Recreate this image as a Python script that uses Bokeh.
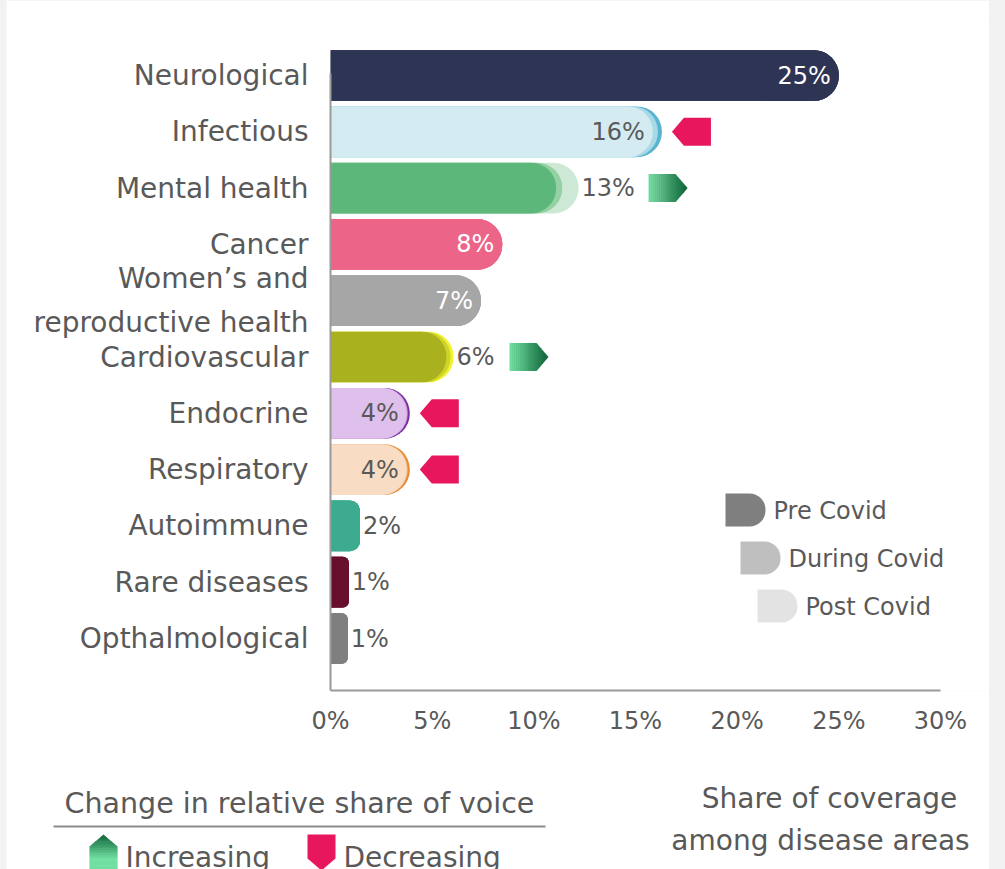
import numpy as np
from bokeh.plotting import figure
from bokeh.models import Range1d, FixedTicker, PrintfTickFormatter, ColumnDataSource
from bokeh.embed import file_html
from bokeh.resources import INLINE
from bokeh.core.properties import value

# ---------------- data ----------------
categories = ["Neurological", "Infectious", "Mental health", "Cancer",
              "Women\u2019s and\nreproductive health", "Cardiovascular", "Endocrine",
              "Respiratory", "Autoimmune", "Rare diseases", "Opthalmological"]
pre_covid = [25.0, 16.3, 11.1, 8.45, 7.4, 5.7, 3.9, 3.9, 1.45, 0.9, 0.85]
during_covid = [25.0, 16.1, 11.4, 8.45, 7.4, 5.9, 3.8, 3.8, 1.45, 0.9, 0.85]
post_covid = [25.0, 15.85, 12.2, 8.45, 7.4, 6.05, 3.75, 3.75, 1.45, 0.9, 0.85]
share_labels = [25, 16, 13, 8, 7, 6, 4, 4, 2, 1, 1]
change_direction = ["", "decreasing", "increasing", "", "", "increasing",
                    "decreasing", "decreasing", "", "", ""]
x_ticks = [0, 5, 10, 15, 20, 25, 30]
period_names = ["Pre Covid", "During Covid", "Post Covid"]
change_names = ["Increasing", "Decreasing"]

# ---------------- style ----------------
FONT = "DejaVu Sans"
TXT = "#595959"
AXC = "#9a9a9a"
PAGE_BG = "#f2f2f2"
col_pre = ["#2e3454", "#5ab4cf", "#5bb77a", "#ec6589", "#a6a6a6", "#a9b11f",
           "#7d2fa0", "#e6892f", "#3dab8f", "#690f2e", "#7f7f7f"]
col_during = ["#2e3454", "#a8d9e6", "#94d0a4", "#ec6589", "#a6a6a6", "#cfd42a",
              "#c39ad8", "#f2b98a", "#3dab8f", "#690f2e", "#7f7f7f"]
col_post = ["#2e3454", "#d3ebf1", "#cde9d5", "#ec6589", "#a6a6a6", "#f1f22a",
            "#dfbfeb", "#f8dcc3", "#3dab8f", "#690f2e", "#7f7f7f"]
label_inside = [True, True, False, True, True, False, True, True, False, False, False]
label_white = [True, False, False, True, True, False, False, False, False, False, False]
legend_cols = ["#7f7f7f", "#bfbfbf", "#e3e3e3"]
RED = "#e8175d"
G_LIGHT = np.array([112, 222, 160])
G_DARK = np.array([14, 98, 56])

# ---------------- geometry ----------------
W, H = 989, 869
FL, FT = 330, 20
FBOT = 690
X_END = 32.41
Y_START, Y_END = -0.9236, 10.977

p = figure(width=W, height=H, x_range=Range1d(0, X_END), y_range=Range1d(Y_START, Y_END),
           output_backend="svg", toolbar_location=None,
           min_border_left=FL, min_border_right=0, min_border_top=FT, min_border_bottom=H - FBOT)
p.outline_line_color = None
p.grid.grid_line_color = None
p.background_fill_color = "white"
p.border_fill_color = "white"

pxx = (W - FL) / X_END
pxy = (FBOT - FT) / (Y_END - Y_START)


def DX(page_x):
    return (page_x - FL) / pxx


def DY(page_y):
    return Y_END - (page_y - FT) / pxy


def hexc(rgb):
    return "#%02x%02x%02x" % tuple(int(c) for c in rgb)


n = len(categories)
ypos = [n - 1 - i for i in range(n)]
BAR_H = 0.9

# bars (largest layer first, smaller drawn on top)
for i in range(n):
    layers = [(pre_covid[i], col_pre[i]), (during_covid[i], col_during[i]), (post_covid[i], col_post[i])]
    layers.sort(key=lambda t: -t[0])
    for v, c in layers:
        r = int(min(25, round(v * pxx * 0.33)))
        src = ColumnDataSource(dict(y=[ypos[i]], right=[v]))
        p.hbar(y="y", left=0, right="right", height=BAR_H, source=src,
               fill_color=c, line_color=None, border_radius=(0, r, r, 0))

# value labels
ins = dict(x=[], y=[], t=[], c=[])
outs = dict(x=[], y=[], t=[])
for i in range(n):
    vals = [pre_covid[i], during_covid[i], post_covid[i]]
    if label_inside[i]:
        ins["x"].append(min(vals)); ins["y"].append(ypos[i]); ins["t"].append(f"{share_labels[i]}%")
        ins["c"].append("white" if label_white[i] else TXT)
    else:
        outs["x"].append(max(vals)); outs["y"].append(ypos[i]); outs["t"].append(f"{share_labels[i]}%")
p.text(x="x", y="y", text="t", source=ColumnDataSource(ins), text_color="c", text_align="right",
       text_baseline="middle", x_offset=-8, text_font=value(FONT), text_font_size="24px")
p.text(x="x", y="y", text="t", source=ColumnDataSource(outs), text_color=TXT, text_align="left",
       text_baseline="middle", x_offset=3, text_font=value(FONT), text_font_size="24px")

# change markers
MW, MH, TIP = 39, 28, 12
red_xs, red_ys = [], []
gr_xs, gr_ys, gr_c = [], [], []
for i in range(n):
    if not change_direction[i]:
        continue
    vals = [pre_covid[i], during_covid[i], post_covid[i]]
    end_px = max(vals) * pxx
    if label_inside[i]:
        start_px = end_px + 10
    else:
        start_px = end_px + 3 + 14 * len(str(share_labels[i])) + 24 + 15
    hy = MH / 2 / pxy
    yc = ypos[i]
    if change_direction[i] == "decreasing":
        xs_px = [start_px, start_px + TIP, start_px + MW, start_px + MW, start_px + TIP]
        ys = [yc, yc + hy, yc + hy, yc - hy, yc - hy]
        red_xs.append([x / pxx for x in xs_px]); red_ys.append(ys)
    else:
        ns = 20
        edges = np.linspace(0, MW, ns + 1)
        body = MW - TIP

        def half(xp):
            return MH / 2 if xp <= body else MH / 2 * (MW - xp) / TIP
        for k in range(ns):
            a, b = edges[k], min(edges[k + 1] + 0.4, MW)
            pts = [a, b]
            if a < body < b:
                pts = [a, body, b]
            top = [(start_px + q, yc + half(q) / pxy) for q in pts]
            bot = [(start_px + q, yc - half(q) / pxy) for q in reversed(pts)]
            poly = top + bot
            gr_xs.append([pp[0] / pxx for pp in poly]); gr_ys.append([pp[1] for pp in poly])
            f = (k + 0.5) / ns
            gr_c.append(hexc(G_LIGHT * (1 - f) + G_DARK * f))
p.patches(xs=red_xs, ys=red_ys, fill_color=RED, line_color=None)
p.patches(xs="xs", ys="ys", source=ColumnDataSource(dict(xs=gr_xs, ys=gr_ys, c=gr_c)),
          fill_color="c", line_color=None)

# period legend (inside frame)
leg_x = [725, 740, 757]
leg_y = [493, 541, 589]
for k in range(3):
    x0, y0 = leg_x[k], leg_y[k]
    p.quad(left=DX(x0), right=DX(x0 + 40), top=DY(y0), bottom=DY(y0 + 33),
           fill_color=legend_cols[k], line_color=None, border_radius=(0, 16, 16, 0))
    p.text(x=[DX(x0 + 48)], y=[DY(y0 + 17)], text=[period_names[k]], text_color=TXT,
           text_baseline="middle", text_align="left", text_font=value(FONT), text_font_size="24px")

# axes
p.xaxis.ticker = FixedTicker(ticks=x_ticks)
p.xaxis.formatter = PrintfTickFormatter(format="%d%%")
p.xaxis.bounds = (0, 30)
p.yaxis.ticker = FixedTicker(ticks=ypos)
p.yaxis.major_label_overrides = {ypos[i]: categories[i] for i in range(n)}
p.yaxis.bounds = (Y_START, DY(73))
for ax in (p.xaxis, p.yaxis):
    ax.axis_line_color = AXC
    ax.axis_line_width = 2
    ax.major_tick_line_color = None
    ax.minor_tick_line_color = None
    ax.major_tick_out = 0
    ax.major_tick_in = 0
    ax.major_label_text_color = TXT
    ax.major_label_text_font = FONT
p.xaxis.major_label_text_font_size = "24px"
p.xaxis.major_label_standoff = 16
p.yaxis.major_label_text_font_size = "28px"
p.yaxis.major_label_standoff = 22
p.yaxis.major_label_text_line_height = 1.32


# ---------------- bottom key (outside the frame, overlay level) ----------------
def add_text(px, py, txt, size, align="left", baseline="middle"):
    p.text(x=[DX(px)], y=[DY(py)], text=[txt], text_align=align, text_baseline=baseline,
           text_font=value(FONT), text_font_size=size, text_color=TXT, level="overlay")


add_text(299, 803, "Change in relative share of voice", "28.5px", "center")
add_text(829, 798, "Share of coverage", "28px", "center")
add_text(820, 840, "among disease areas", "28px", "center")
add_text(125, 857, change_names[0], "28px")
add_text(343, 857, change_names[1], "28px")

p.segment(x0=[DX(53)], y0=[DY(826)], x1=[DX(545)], y1=[DY(826)], line_color="#8c8c8c",
          line_width=2, level="overlay")

# increasing icon (vertical gradient arrow), one patch per slice
cx, ytop, ysh, ybot, hw = 103, 834, 846, 875, 14


def hwf(yv):
    return hw if yv >= ysh else hw * (yv - ytop) / (ysh - ytop)


edges = np.linspace(ytop, ybot, 25)
for k in range(len(edges) - 1):
    a, b = edges[k], min(edges[k + 1] + 0.5, ybot)
    pts = [a, b] if not (a < ysh < b) else [a, ysh, b]
    left = [(cx - hwf(yv), yv) for yv in pts]
    right = [(cx + hwf(yv), yv) for yv in reversed(pts)]
    poly = left + right
    f = min(1.0, (k + 0.5) / 14)
    p.patch(x=[DX(pp[0]) for pp in poly], y=[DY(pp[1]) for pp in poly],
            fill_color=hexc(G_DARK * (1 - f) + G_LIGHT * f), line_color=None, level="overlay")
p.patch(x=[DX(v) for v in [307, 335, 335, 321, 307]], y=[DY(v) for v in [834, 834, 858, 870, 858]],
        fill_color=RED, line_color=None, level="overlay")

# grey page strip at the far left
p.patch(x=[DX(v) for v in [0, 6, 6, 0]], y=[DY(v) for v in [0, 0, 869, 869]],
        fill_color=PAGE_BG, line_color=None, level="overlay")

html = file_html(p, INLINE, title="Share of coverage among disease areas")
html = html.replace("</head>", "<style>html,body{background:#f2f2f2;}</style></head>", 1)
open("out.html", "w").write(html)
